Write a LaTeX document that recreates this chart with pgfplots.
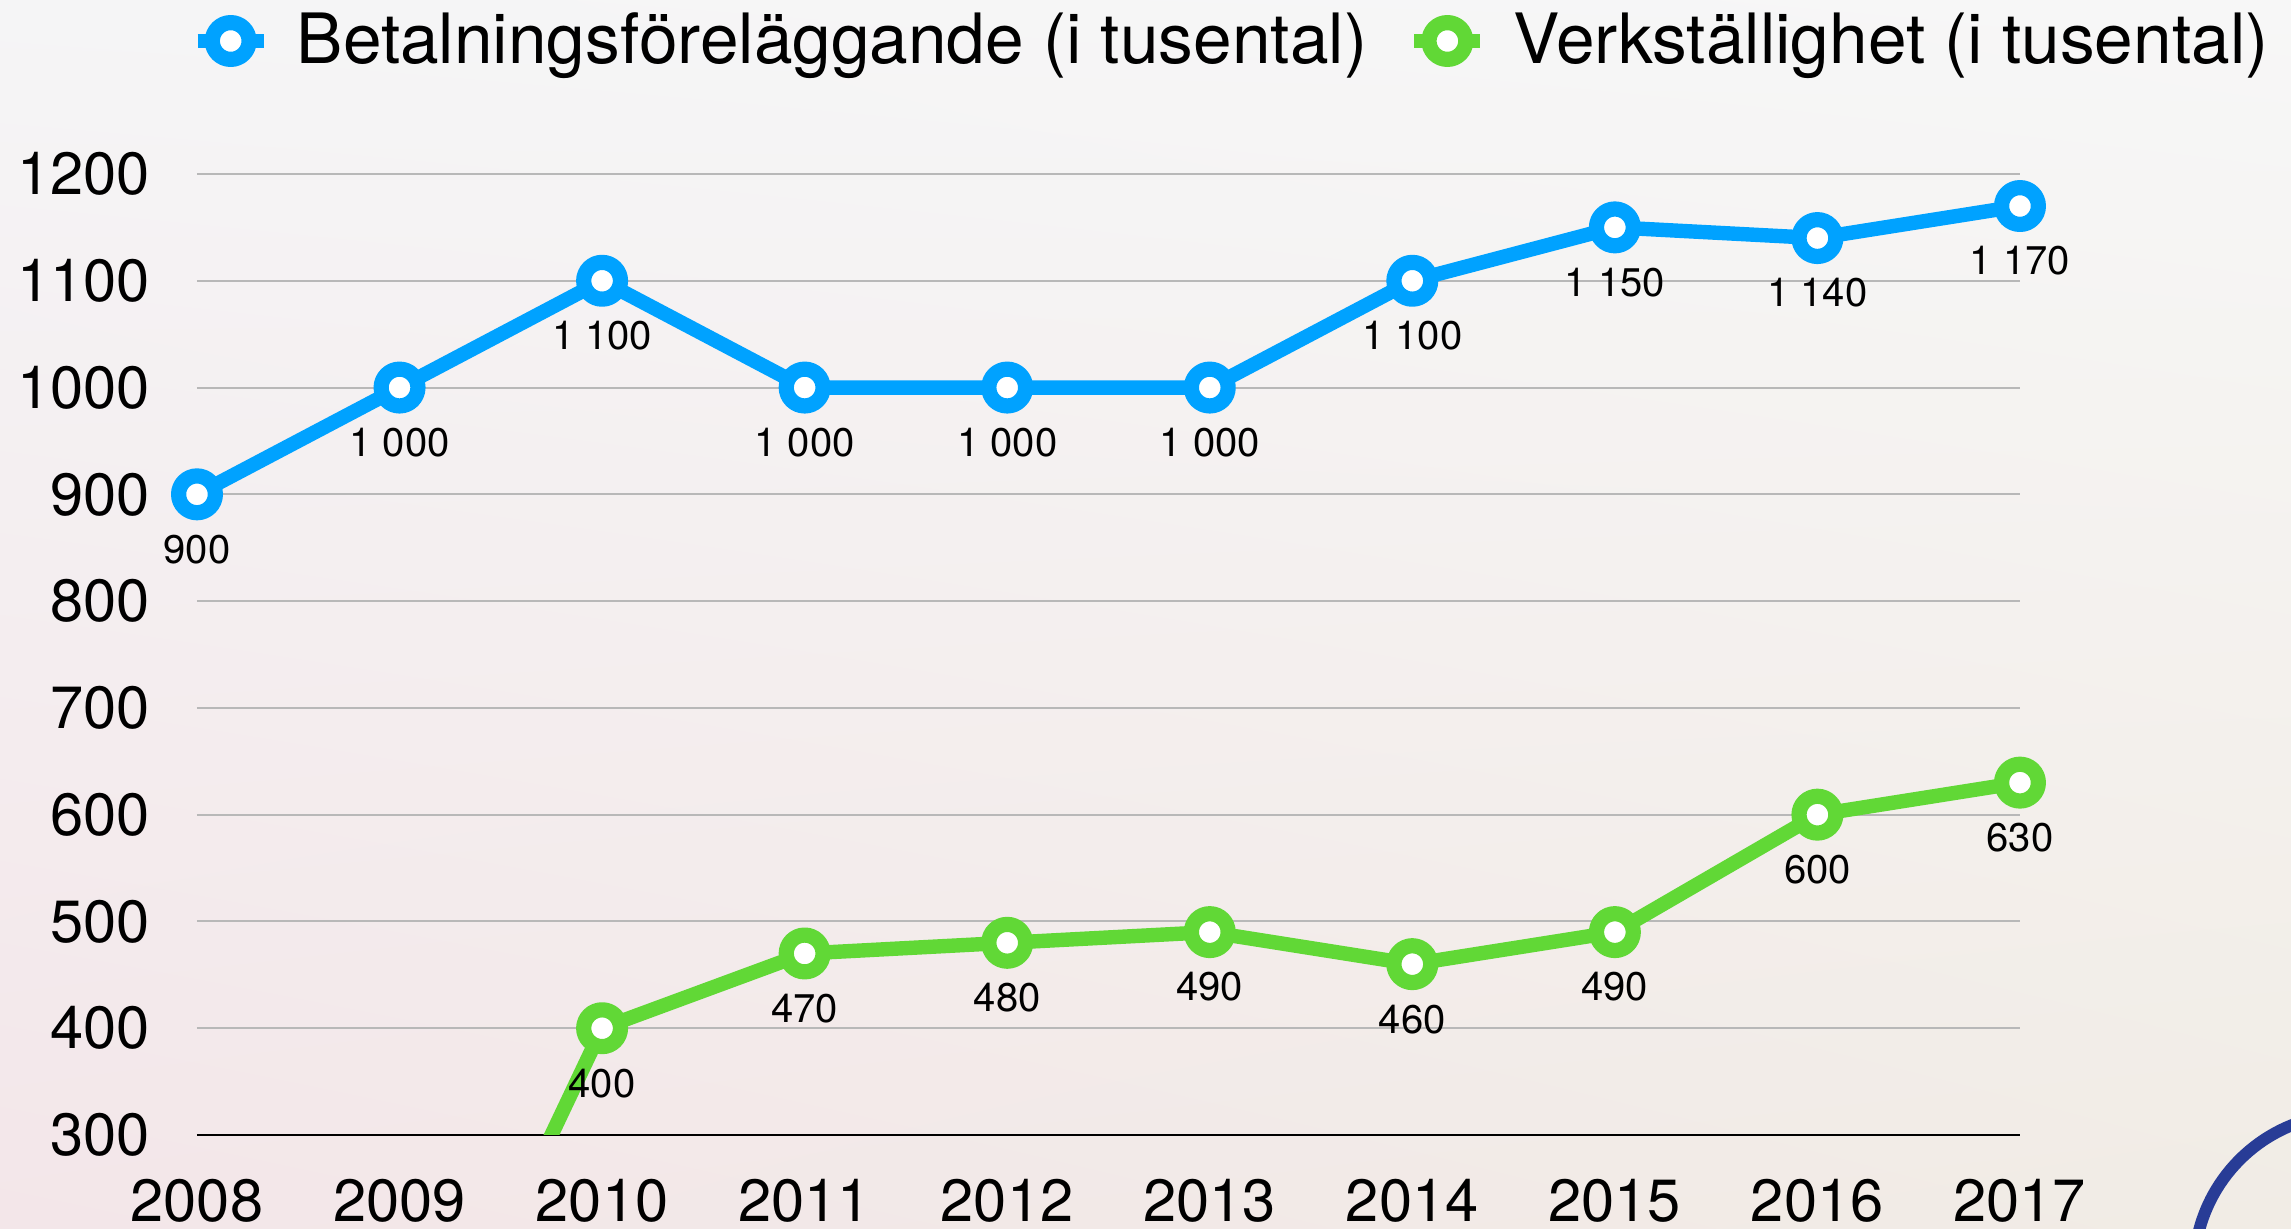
\documentclass[border=0pt]{standalone}
\usepackage{pgfplots}
\pgfplotsset{compat=1.18}
\usetikzlibrary{shadings}
\usepackage{fontspec}
\setmainfont{TeX Gyre Heros}
\definecolor{cblue}{RGB}{0,162,255}
\definecolor{cgreen}{RGB}{97,216,54}
\definecolor{cgrid}{RGB}{184,184,184}
\definecolor{logo}{RGB}{40,60,150}
\definecolor{bgUL}{RGB}{245,245,246}
\definecolor{bgUR}{RGB}{247,247,247}
\definecolor{bgLL}{RGB}{243,230,233}
\definecolor{bgLR}{RGB}{241,236,229}
\begin{document}
\begin{tikzpicture}
\useasboundingbox (-49.25pt,-23.5pt) rectangle (523.5pt,283.75pt);
\shade[upper left=bgUL, upper right=bgUR, lower left=bgLL, lower right=bgLR] (-49.25pt,-23.5pt) rectangle (523.5pt,283.75pt);
\draw[logo, line width=3pt] (538.25pt,-33.75pt) circle (39pt);
\begin{axis}[
  scale only axis, width=455.75pt, height=240.25pt,
  at={(0pt,0pt)}, anchor=south west,
  xmin=2008, xmax=2017, ymin=300, ymax=1200,
  axis line style={draw=none},
  tick style={draw=none},
  xtick={2008,...,2017},
  ytick={400,500,...,1200},
  extra y ticks={300},
  extra y tick style={major grid style={black, line width=0.55pt}},
  ymajorgrids, grid style={cgrid, line width=0.5pt},
  /pgf/number format/1000 sep={},
  /pgf/number format/assume math mode=true,
  tick label style={font=\fontsize{14.9}{16}\selectfont},
  xticklabel style={yshift=-7.6pt},
  yticklabel style={xshift=-8.3pt},
  legend style={at={(axis description cs:-0.004,1.1384)}, anchor=west, draw=none, fill=none, inner sep=0pt,
    font=\fontsize{17.35}{20}\selectfont,
    /tikz/every odd column/.append style={column sep=4.5pt},
    /tikz/every even column/.append style={column sep=8pt}},
  legend columns=-1,
  legend image code/.code={\draw[mark repeat=2,mark phase=2,#1] plot coordinates {(-8.25pt,0pt) (0pt,0pt) (8.25pt,0pt)};},
  every node near coord/.append style={anchor=center, yshift=-13.75pt, font=\fontsize{10}{11}\selectfont, text=black},
]
\addplot[cgreen, line width=3.6pt, no marks, forget plot] coordinates {(2009,0) (2010,400)};
\addplot[cblue, line width=3.6pt, line join=round, mark=*, mark size=4.6pt,
  mark options={fill=white, draw=cblue, line width=3.8pt},
  point meta=explicit symbolic, nodes near coords]
  coordinates {
  (2008,900) [900]
  (2009,1000) [1 000]
  (2010,1100) [1 100]
  (2011,1000) [1 000]
  (2012,1000) [1 000]
  (2013,1000) [1 000]
  (2014,1100) [1 100]
  (2015,1150) [1 150]
  (2016,1140) [1 140]
  (2017,1170) [1 170]
  };
\addlegendentry{Betalningsföreläggande (i tusental)}
\addplot[cgreen, line width=3.6pt, line join=round, mark=*, mark size=4.6pt,
  mark options={fill=white, draw=cgreen, line width=3.8pt},
  point meta=explicit symbolic, nodes near coords]
  coordinates {
  (2010,400) [400]
  (2011,470) [470]
  (2012,480) [480]
  (2013,490) [490]
  (2014,460) [460]
  (2015,490) [490]
  (2016,600) [600]
  (2017,630) [630]
  };
\addlegendentry{Verkställighet (i tusental)}
\end{axis}
\end{tikzpicture}
\end{document}
